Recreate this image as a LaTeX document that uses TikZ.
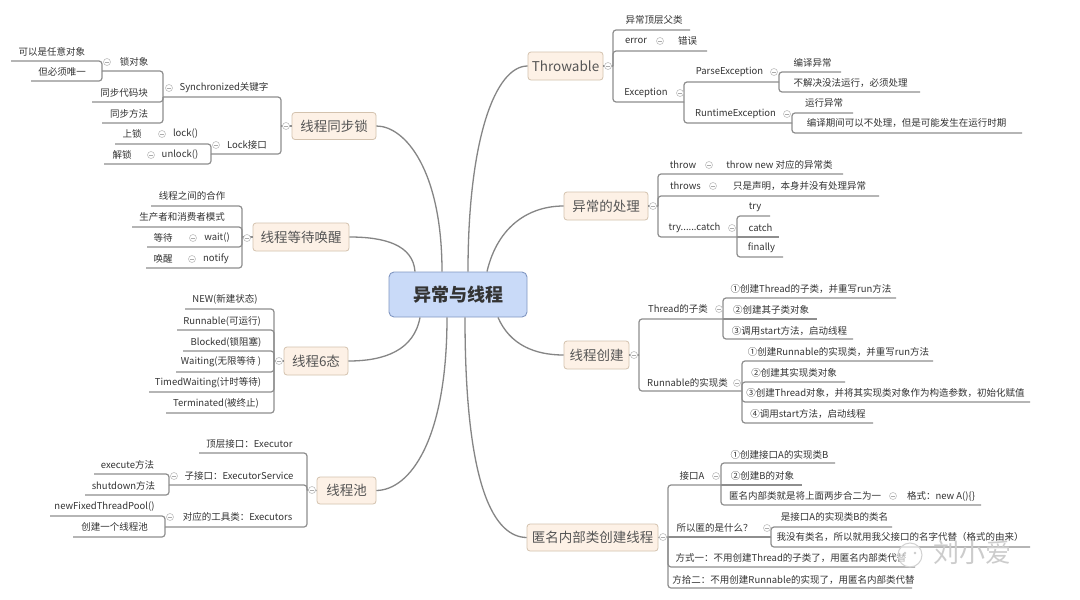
\documentclass[tikz,border=0pt]{standalone}
\usepackage{fontspec}
\setmainfont{Noto Sans CJK SC}
\definecolor{lc}{HTML}{8E8E8E}
\definecolor{cc}{HTML}{858585}
\definecolor{txtc}{HTML}{333333}
\definecolor{tf}{HTML}{FDF1E6}
\definecolor{tb}{HTML}{D3C2AE}
\definecolor{tt}{HTML}{555555}
\definecolor{cf}{HTML}{C9DAF8}
\definecolor{cb}{HTML}{8197C2}
\begin{document}
\begin{tikzpicture}[x=1pt,y=-1pt,
  t/.style={inner sep=0pt, text=txtc, font=\fontsize{9.5}{11}\selectfont},
  topic/.style={draw=tb, fill=tf, rounded corners=3pt, text=tt, line width=0.8pt,
    inner sep=0pt, font=\fontsize{13.5}{15}\selectfont},
  central/.style={draw=cb, fill=cf, rounded corners=5pt, text=black!80, line width=0.9pt,
    inner sep=0pt, font=\bfseries\fontsize{18}{20}\selectfont},
  ln/.style={draw=lc, line width=1.2pt},
  br/.style={ln, rounded corners=3pt},
  cv/.style={draw=cc, line width=1.3pt},
  col/.style={circle, draw=gray!50, fill=white, line width=0.6pt, minimum size=7pt, inner sep=0pt,
    path picture={\draw[gray!65, line width=0.6pt] ([xshift=-2pt]path picture bounding box.center) -- ([xshift=2pt]path picture bounding box.center);}}
]
\useasboundingbox (0,0) rectangle (1080,600);
\fill[white] (0,0) rectangle (1080,600);

% ---------- central and main topics ----------
\node[central, minimum width=138pt, minimum height=45pt] (c) at (458,294.5) {异常与线程};
\node[topic, minimum width=84pt, minimum height=27pt] (ts) at (334,126) {线程同步锁};
\node[topic, minimum width=96pt, minimum height=28pt] (tw) at (301,237) {线程等待唤醒};
\node[topic, minimum width=64pt, minimum height=28pt] (t6) at (316,361) {线程6态};
\node[topic, minimum width=59pt, minimum height=27pt] (tp) at (346.5,490.5) {线程池};
\node[topic, minimum width=75pt, minimum height=28pt] (th) at (565.5,66) {Throwable};
\node[topic, minimum width=84pt, minimum height=28pt] (tx) at (606,206) {异常的处理};
\node[topic, minimum width=65pt, minimum height=28pt] (tc) at (596.5,355) {线程创建};
\node[topic, minimum width=131pt, minimum height=27pt] (tn) at (592.5,537.5) {匿名内部类创建线程};

% ---------- curves ----------
\draw[cv] ([xshift=-16pt]c.north) .. controls (442,170) and (405,126) .. (ts.east);
\draw[cv] ([xshift=-43pt]c.north) .. controls (413,245) and (385,237) .. (tw.east);
\draw[cv] ([xshift=10pt]c.north) .. controls (468,140) and (495,66) .. (th.west);
\draw[cv] ([xshift=29pt]c.north) .. controls (498,225) and (530,206) .. (tx.west);
\draw[cv] ([xshift=-38pt]c.south) .. controls (414,350) and (385,361) .. (t6.east);
\draw[cv] ([xshift=-11pt]c.south) .. controls (447,440) and (410,490) .. (tp.east);
\draw[cv] ([xshift=7pt]c.south) .. controls (465,490) and (495,537) .. (tn.west);
\draw[cv] ([xshift=40pt]c.south) .. controls (510,345) and (535,355) .. (tc.west);

% ---------- 线程同步锁 ----------
\draw[ln] (ts.west) -- (281,126);
\draw[br] (281,126) -- (281,97) -- (163,97);
\draw[br] (281,126) -- (281,154) -- (211,154);
\draw[br] (163,97) -- (163,71) -- (102,71);
\draw[br] (163,97) -- (163,102) -- (92,102);
\draw[br] (163,97) -- (163,123) -- (102,123);
\draw[br] (102,71) -- (102,61) -- (11,61);
\draw[br] (102,71) -- (102,81) -- (31,81);
\draw[br] (211,154) -- (211,144) -- (115,144);
\draw[br] (211,154) -- (211,164) -- (104,164);
\node[col] (k1) at (286,126) {};
\node[col] (k2) at (169,88) {};
\node[col] (k3) at (107,62) {};
\node[col] (k4) at (216,145) {};
\node[col] (k5) at (162,134) {};
\node[col] (k6) at (151,155) {};
\node[t] (a1) at (52,52) {可以是任意对象};
\node[t] (a2) at (62,72) {但必须唯一};
\node[t] (a3) at (134,62) {锁对象};
\node[t] (a4) at (124,93) {同步代码块};
\node[t] (a5) at (129,114) {同步方法};
\node[t] (a6) at (224,88) {Synchronized关键字};
\node[t] (a7) at (247,145) {Lock接口};
\node[t] (a8) at (132,134) {上锁};
\node[t] (a9) at (185.5,134) {lock()};
\node[t] (a10) at (122,155) {解锁};
\node[t] (a11) at (180,155) {unlock()};

% ---------- 线程等待唤醒 ----------
\draw[ln] (tw.west) -- (242,237);
\draw[br] (242,237) -- (242,206) -- (151,206);
\draw[br] (242,237) -- (242,227) -- (132,227);
\draw[br] (242,237) -- (242,247) -- (147,247);
\draw[br] (242,237) -- (242,268) -- (146,268);
\node[col] (k7) at (247,238) {};
\node[col] (k8) at (193,238) {};
\node[col] (k9) at (192,259) {};
\node[t] (b1) at (192,196) {线程之间的合作};
\node[t] (b2) at (182,217) {生产者和消费者模式};
\node[t] (b3) at (163,238) {等待};
\node[t] (b4) at (217,238) {wait()};
\node[t] (b5) at (163,259) {唤醒};
\node[t] (b6) at (216,259) {notify};

% ---------- 线程6态 ----------
\draw[ln] (t6.west) -- (274,361);
\draw[br] (274,361) -- (274,309) -- (185,309);
\draw[br] (274,361) -- (274,330) -- (177,330);
\draw[br] (274,361) -- (274,351) -- (183,351);
\draw[br] (274,361) -- (274,372) -- (176,372);
\draw[br] (274,361) -- (274,392) -- (149,392);
\draw[br] (274,361) -- (274,413) -- (166,413);
\node[col] (k10) at (279,361) {};
\node[t] (s1) at (225,299) {NEW(新建状态)};
\node[t] (s2) at (222,321) {Runnable(可运行)};
\node[t] (s3) at (226,342) {Blocked(锁阻塞)};
\node[t] (s4) at (221,362) {Waiting(无限等待 )};
\node[t] (s5) at (208,383) {TimedWaiting(计时等待)};
\node[t] (s6) at (216,403) {Terminated(被终止)};

% ---------- 线程池 ----------
\draw[ln] (tp.west) -- (307,490);
\draw[br] (307,490) -- (307,453) -- (199,453);
\draw[br] (307,490) -- (307,485) -- (169,485);
\draw[br] (307,490) -- (307,527) -- (165,527);
\draw[br] (169,485) -- (169,474) -- (94,474);
\draw[br] (169,485) -- (169,495) -- (85,495);
\draw[br] (165,527) -- (165,516) -- (50,516);
\draw[br] (165,527) -- (165,537) -- (73,537);
\node[col] (k11) at (312,490) {};
\node[col] (k12) at (174,476) {};
\node[col] (k13) at (170,517) {};
\node[t] (p1) at (249.5,444) {顶层接口：Executor};
\node[t] (p2) at (239,476) {子接口：ExecutorService};
\node[t] (p3) at (237.5,517) {对应的工具类：Executors};
\node[t] (p4) at (127.5,465) {execute方法};
\node[t] (p5) at (123.5,486) {shutdown方法};
\node[t] (p6) at (104.5,507) {newFixedThreadPool()};
\node[t] (p7) at (114.5,527) {创建一个线程池};

% ---------- Throwable ----------
\draw[ln] (th.east) -- (613,66);
\draw[br] (613,66) -- (613,30) -- (690,30);
\draw[br] (613,66) -- (613,51) -- (707,51);
\draw[br] (613,66) -- (613,102) -- (684,102);
\draw[br] (684,102) -- (684,82) -- (779,82);
\draw[br] (684,102) -- (684,123) -- (792,123);
\draw[br] (779,82) -- (779,72) -- (841,72);
\draw[br] (779,82) -- (779,92) -- (920,92);
\draw[br] (792,123) -- (792,113) -- (853,113);
\draw[br] (792,123) -- (792,133) -- (1022,133);
\node[col] (k14) at (608,66) {};
\node[col] (k15) at (660,41) {};
\node[col] (k16) at (680,93) {};
\node[col] (k17) at (774,72) {};
\node[col] (k18) at (787,114) {};
\node[t] (e1) at (654,20) {异常顶层父类};
\node[t] (e2) at (636,41) {error};
\node[t] (e3) at (687.5,41) {错误};
\node[t] (e4) at (646,93) {Exception};
\node[t] (e5) at (729.5,72) {ParseException};
\node[t] (e6) at (735.5,114) {RuntimeException};
\node[t] (e7) at (812.5,63) {编译异常};
\node[t] (e8) at (850.5,83) {不解决没法运行，必须处理};
\node[t] (e9) at (824,103) {运行异常};
\node[t] (e10) at (906.5,123) {编译期间可以不处理，但是可能发生在运行时期};

% ---------- 异常的处理 ----------
\draw[ln] (tx.east) -- (658,206);
\draw[br] (658,206) -- (658,174) -- (843,174);
\draw[br] (658,206) -- (658,196) -- (879,196);
\draw[br] (658,206) -- (658,237) -- (737,237);
\draw[br] (737,237) -- (737,216) -- (770,216);
\draw[ln] (737,237) -- (779,237);
\draw[br] (737,237) -- (737,257) -- (783,257);
\node[col] (k19) at (653,206) {};
\node[col] (k20) at (709,165) {};
\node[col] (k21) at (713,186) {};
\node[col] (k22) at (732,228) {};
\node[t] (h1) at (683,165) {throw};
\node[t] (h2) at (779.5,165) {throw new 对应的异常类};
\node[t] (h3) at (685.5,186) {throws};
\node[t] (h4) at (799.5,186) {只是声明，本身并没有处理异常};
\node[t] (h5) at (694.5,228) {try......catch};
\node[t] (h6) at (755,207) {try};
\node[t] (h7) at (760.5,228) {catch};
\node[t] (h8) at (761.5,248) {finally};

% ---------- 线程创建 ----------
\draw[ln] (tc.east) -- (639,355);
\draw[br] (639,355) -- (639,319) -- (723,319);
\draw[br] (639,355) -- (639,391) -- (742,391);
\draw[br] (723,319) -- (723,298) -- (896,298);
\draw[ln] (723,319) -- (817,319);
\draw[br] (723,319) -- (723,339) -- (853,339);
\draw[br] (742,391) -- (742,361) -- (933,361);
\draw[br] (742,391) -- (742,382) -- (845,382);
\draw[br] (742,391) -- (742,402) -- (1030,402);
\draw[br] (742,391) -- (742,423) -- (873,423);
\node[col] (k23) at (634,355) {};
\node[col] (k24) at (719,309) {};
\node[col] (k25) at (737,383) {};
\node[t] (r1) at (678,309) {Thread的子类};
\node[t] (r2) at (811,289) {①创建Thread的子类，并重写run方法};
\node[t] (r3) at (771,310) {②创建其子类对象};
\node[t] (r4) at (789.5,331) {③调用start方法，启动线程};
\node[t] (r5) at (687.5,383) {Runnable的实现类};
\node[t] (r6) at (838.5,352) {①创建Runnable的实现类，并重写run方法};
\node[t] (r7) at (794,373) {②创建其实现类对象};
\node[t] (r8) at (885.5,393) {③创建Thread对象，并将其实现类对象作为构造参数，初始化赋值};
\node[t] (r9) at (808,414) {④调用start方法，启动线程};

% ---------- 匿名内部类创建线程 ----------
\draw[ln] (tn.east) -- (668,537);
\draw[br] (668,537) -- (668,485) -- (721,485);
\draw[ln] (668,537) -- (771,537);
\draw[br] (668,537) -- (668,567) -- (915,567);
\draw[br] (668,537) -- (668,588) -- (912,588);
\draw[br] (721,485) -- (721,463) -- (835,463);
\draw[ln] (721,485) -- (802,485);
\draw[br] (721,485) -- (721,505) -- (981,505);
\draw[br] (771,537) -- (771,527) -- (892,527);
\draw[br] (771,537) -- (771,547) -- (1030,547);
\node[col] (k26) at (663,537) {};
\node[col] (k27) at (716,476) {};
\node[col] (k28) at (893,496) {};
\node[col] (k29) at (767,528) {};
\node[t] (m1) at (692,476) {接口A};
\node[t] (m2) at (779.5,455) {①创建接口A的实现类B};
\node[t] (m3) at (762.5,476) {②创建B的对象};
\node[t] (m4) at (805,496) {匿名内部类就是将上面两步合二为一};
\node[t] (m5) at (941,496) {格式：new A()\{\}};
\node[t] (m6) at (714.5,528) {所以匿的是什么？};
\node[t] (m7) at (834.5,517) {是接口A的实现类B的类名};
\node[t] (m8) at (900,537) {我没有类名，所以就用我父接口的名字代替（格式的由来）};
\node[t] (m9) at (791,558) {方式一：不用创建Thread的子类了，用匿名内部类代替};
\node[t] (m10) at (793.5,580) {方拾二：不用创建Runnable的实现了，用匿名内部类代替};

% ---------- watermark ----------
\draw[gray!35, line width=1pt, fill=white, fill opacity=0.6] (910,555) circle (12);
\fill[gray!40] (905,553) circle (1.3) (915,553) circle (1.3);
\node[text=gray!40, font=\fontsize{26}{26}\selectfont, inner sep=0pt] (wm) at (972,553) {刘小爱};
\end{tikzpicture}
\end{document}
